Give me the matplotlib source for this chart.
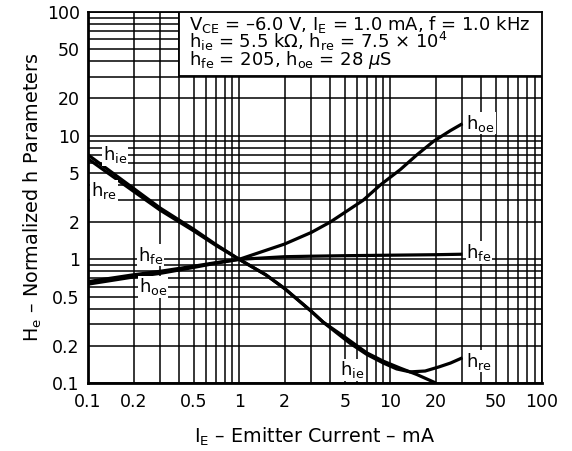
import matplotlib
matplotlib.use("Agg")
import matplotlib.pyplot as plt
from matplotlib.patches import Rectangle
import matplotlib.ticker as mticker

plt.rcParams['font.family'] = ['DejaVu Sans']
plt.rcParams['mathtext.fontset'] = 'dejavusans'
plt.rcParams['mathtext.default'] = 'regular'

# ---- data (normalized h parameters vs emitter current, mA) ----
tick_vals = [0.1, 0.2, 0.5, 1, 2, 5, 10, 20, 50, 100]
tick_labels = ['0.1', '0.2', '0.5', '1', '2', '5', '10', '20', '50', '100']

hie_x = [0.1, 0.2, 0.3, 0.5, 0.7, 1.0, 1.5, 2.0, 3.0, 3.6, 5.0, 7.0, 9.0, 11.6, 15.0, 20.0]
hie_y = [7.0, 3.75, 2.6, 1.75, 1.32, 1.0, 0.75, 0.58, 0.38, 0.31, 0.235, 0.175, 0.15, 0.132, 0.117, 0.1]

hre_x = [0.1, 0.2, 0.3, 0.5, 0.7, 1.0, 1.5, 2.0, 3.0, 3.6, 4.5, 5.4, 7.0, 9.0, 11.0, 13.5, 17.0, 21.0, 25.0, 30.0]
hre_y = [6.5, 3.55, 2.5, 1.7, 1.3, 1.0, 0.75, 0.58, 0.38, 0.31, 0.25, 0.21, 0.17, 0.145, 0.13, 0.123, 0.125, 0.135, 0.145, 0.16]

hfe_x = [0.1, 0.2, 0.3, 0.5, 0.7, 1.0, 2.0, 3.0, 5.0, 10.0, 20.0, 30.0]
hfe_y = [0.66, 0.75, 0.8, 0.88, 0.94, 1.0, 1.05, 1.06, 1.07, 1.08, 1.09, 1.1]

hoe_x = [0.1, 0.2, 0.3, 0.5, 0.7, 1.0, 2.0, 3.0, 4.0, 6.6, 8.6, 11.6, 15.0, 19.3, 25.0, 30.0]
hoe_y = [0.63, 0.72, 0.77, 0.86, 0.93, 1.0, 1.33, 1.65, 2.0, 3.0, 4.0, 5.3, 7.0, 9.0, 11.0, 12.5]

# ---- figure ----
fig = plt.figure(figsize=(5.72, 4.51), dpi=100)
ax = fig.add_axes([88/572, 1-383/451, (541.5-88)/572, (383-12)/451])
ax.set_xscale('log')
ax.set_yscale('log')
ax.set_xlim(0.1, 100)
ax.set_ylim(0.1, 100)

ax.grid(True, which='both', color='black', linewidth=1.1)
ax.set_axisbelow(True)

for xs, ys in [(hie_x, hie_y), (hre_x, hre_y), (hfe_x, hfe_y), (hoe_x, hoe_y)]:
    ax.plot(xs, ys, color='black', linewidth=2.3, solid_capstyle='butt', zorder=4)

ax.set_xticks(tick_vals)
ax.set_xticklabels(tick_labels)
ax.set_yticks(tick_vals)
ax.set_yticklabels(tick_labels)
ax.minorticks_on()
ax.tick_params(which='both', length=0, labelsize=12.5)
ax.tick_params(axis='x', pad=7)
ax.tick_params(axis='y', pad=6)
ax.xaxis.set_minor_formatter(mticker.NullFormatter())
ax.yaxis.set_minor_formatter(mticker.NullFormatter())

for s in ax.spines.values():
    s.set_linewidth(1.3)
ax.spines['left'].set_linewidth(2.0)
ax.spines['bottom'].set_linewidth(2.0)

ax.set_xlabel(r'I$_{\rm E}$ – Emitter Current – mA', fontsize=13.8, labelpad=11)
ax.set_ylabel(r'H$_{\rm e}$ – Normalized h Parameters', fontsize=13.8, labelpad=2)

bb = dict(facecolor='white', edgecolor='none', pad=0.5)
lab_kw = dict(fontsize=13, va='center', ha='left', bbox=bb, zorder=5)
ax.text(0.126, 7.0, r'h$_{\rm ie}$', **lab_kw)
ax.text(0.105, 3.57, r'h$_{\rm re}$', **lab_kw)
ax.text(0.214, 1.08, r'h$_{\rm fe}$', **lab_kw)
ax.text(0.218, 0.60, r'h$_{\rm oe}$', **lab_kw)
ax.text(4.67, 0.128, r'h$_{\rm ie}$', **lab_kw)
ax.text(31.8, 0.15, r'h$_{\rm re}$', **lab_kw)
ax.text(31.8, 1.14, r'h$_{\rm fe}$', **lab_kw)
ax.text(31.8, 12.6, r'h$_{\rm oe}$', **lab_kw)

# condition box
x0 = (179-88)/453.5
y0 = (383-76)/371
ax.add_patch(Rectangle((x0, y0), 1-x0, 1-y0, transform=ax.transAxes,
                       facecolor='white', edgecolor='black', linewidth=1.3, zorder=6))
tx = (189-88)/453.5
box_text = '\n'.join([
    r'V$_{\rm CE}$ = –6.0 V, I$_{\rm E}$ = 1.0 mA, f = 1.0 kHz',
    r'h$_{\rm ie}$ = 5.5 k$\Omega$, h$_{\rm re}$ = 7.5 $\times$ 10$^{4}$',
    r'h$_{\rm fe}$ = 205, h$_{\rm oe}$ = 28 $\mathit{\mu}$S',
])
ax.text(tx, (383-14)/371, box_text, transform=ax.transAxes, fontsize=13,
        va='top', ha='left', linespacing=0.72, zorder=7)

fig.savefig('out.png', dpi=100)
